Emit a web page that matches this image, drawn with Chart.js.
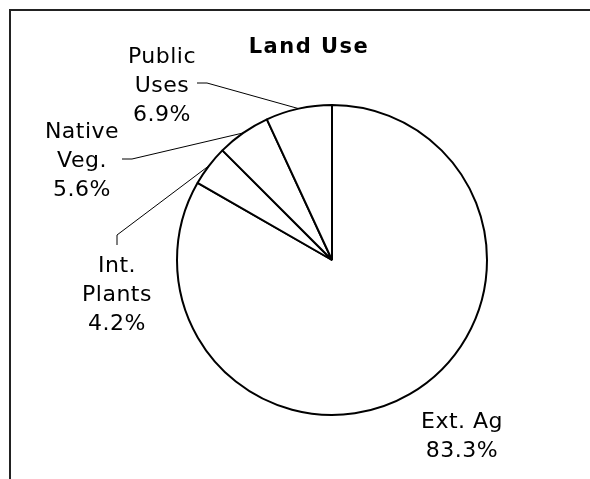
<!DOCTYPE html>
<html>
<head>
<meta charset="utf-8">
<script src="https://cdn.jsdelivr.net/npm/chart.js@4"></script>
<style>
  html, body { margin: 0; padding: 0; background: #fff; }
  #wrap { width: 590px; height: 479px; position: relative; }
</style>
</head>
<body>
<div id="wrap"><canvas id="grafica"></canvas></div>
<script>
// datos del grafico
const titulo = 'Land Use';
const categorias = ['Ext. Ag', 'Int. Plants', 'Native Veg.', 'Public Uses'];
const valores = [83.3, 4.2, 5.6, 6.9];
const etiquetas = [['Ext. Ag', '83.3%'], ['Int.', 'Plants', '4.2%'], ['Native', 'Veg.', '5.6%'], ['Public', 'Uses', '6.9%']];

// donde va cada texto, relativo al centro del pastel (px)
// lider: inicio junto al texto y codo antes de ir al borde del arco
const posEtiquetas = [
    { dx: 130, dy: 168, lider: null },
    { dx: -215, dy: 12, lider: [[-215, -15], [-215, -25]] },
    { dx: -250, dy: -122, lider: [[-210, -101], [-200, -101]] },
    { dx: -170, dy: -197, lider: [[-135, -177], [-125, -177]] }
];

const etiquetasPlugin = {
    id: 'etiquetas',
    beforeDraw(chart) {
        const ctx = chart.ctx;
        ctx.save();
        ctx.fillStyle = '#fff';
        ctx.fillRect(0, 0, chart.width, chart.height);
        // marco
        ctx.strokeStyle = '#222';
        ctx.lineWidth = 2;
        ctx.beginPath();
        ctx.moveTo(10, chart.height);
        ctx.lineTo(10, 10);
        ctx.lineTo(chart.width, 10);
        ctx.stroke();
        ctx.restore();
    },
    afterDraw(chart) {
        const ctx = chart.ctx;
        const arcos = chart.getDatasetMeta(0).data;
        const cx = arcos[0].x;
        const cy = arcos[0].y;
        ctx.save();

        // titulo
        ctx.fillStyle = '#000';
        ctx.font = 'bold 21px "DejaVu Sans", sans-serif';
        ctx.letterSpacing = '1.5px';
        ctx.textAlign = 'center';
        ctx.textBaseline = 'alphabetic';
        ctx.fillText(titulo, cx - 23, 53);

        ctx.font = '22px "DejaVu Sans", sans-serif';
        ctx.letterSpacing = '0.5px';
        arcos.forEach((arco, i) => {
            const p = posEtiquetas[i];
            etiquetas[i].forEach((linea, j) => {
                ctx.fillText(linea, cx + p.dx, cy + p.dy + j * 29);
            });
            if (p.lider) {
                const medio = (arco.startAngle + arco.endAngle) / 2;
                const ex = cx + Math.cos(medio) * arco.outerRadius;
                const ey = cy + Math.sin(medio) * arco.outerRadius;
                ctx.strokeStyle = '#000';
                ctx.lineWidth = 1;
                ctx.beginPath();
                ctx.moveTo(cx + p.lider[0][0], cy + p.lider[0][1]);
                ctx.lineTo(cx + p.lider[1][0], cy + p.lider[1][1]);
                ctx.lineTo(ex, ey);
                ctx.stroke();
            }
        });
        ctx.restore();
    }
};

const ctx = document.getElementById('grafica').getContext('2d');
const grafica = new Chart(ctx, {
    type: 'pie',
    data: {
        labels: categorias,
        datasets: [{
            data: valores,
            backgroundColor: '#fff',
            borderColor: '#000',
            borderWidth: 2
        }]
    },
    options: {
        responsive: true,
        maintainAspectRatio: false,
        animation: false,
        layout: { padding: { left: 176, right: 102, top: 104, bottom: 63 } },
        plugins: {
            legend: { display: false },
            tooltip: { enabled: false }
        }
    },
    plugins: [etiquetasPlugin]
});
</script>
</body>
</html>
